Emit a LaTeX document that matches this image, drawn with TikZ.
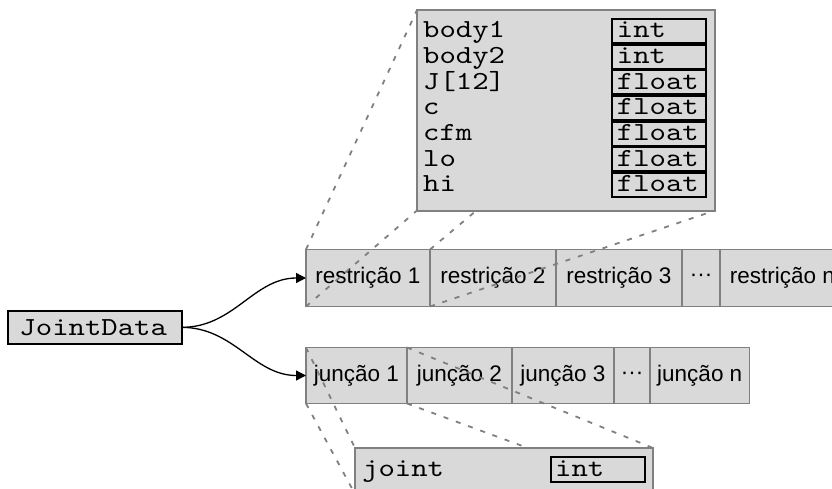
\documentclass[tikz,border=0pt]{standalone}
\usepackage{fontspec}
\setmainfont{Liberation Sans}
\newfontfamily\monofont[FakeStretch=1.2]{lmmono10-regular.otf}
\usetikzlibrary{arrows.meta}
\definecolor{cellfill}{RGB}{217,217,217}
\definecolor{edgegray}{RGB}{128,128,128}
\pgfdeclarelayer{cells}
\pgfdeclarelayer{guides}
\pgfsetlayers{cells,guides,main}
\tikzset{
  cell/.style={draw=edgegray, fill=cellfill, line width=1.6pt, rectangle,
    inner sep=0pt, outer sep=0pt, anchor=west,
    font=\fontsize{22.5}{26}\selectfont},
  rcell/.style={cell, minimum height=57pt},
  jcell/.style={cell, minimum height=56pt},
  panel/.style={draw=edgegray, fill=cellfill, line width=2pt,
    inner sep=0pt, outer sep=0pt, anchor=north west},
  typebox/.style={draw=black, line width=1.8pt, inner sep=0pt, outer sep=0pt,
    minimum width=94pt, minimum height=24pt},
  code/.style={font=\monofont\fontsize{26}{28}\selectfont,
    inner sep=0pt, anchor=base west},
  zoomline/.style={draw=edgegray, line width=1.8pt, dash pattern=on 5pt off 8pt},
  link/.style={draw=black, line width=1.3pt, -{Triangle[length=10pt,width=10pt]}},
}
\begin{document}
\begin{tikzpicture}[x=1pt, y=-1pt]
\useasboundingbox (0,0) rectangle (832,488);

% constraint array
\begin{pgfonlayer}{cells}
\node[rcell, minimum width=124pt] (r1) at (306,278) {restrição 1};
\node[rcell, minimum width=126pt] (r2) at (430,278) {restrição 2};
\node[rcell, minimum width=126pt] (r3) at (556,278) {restrição 3};
\node[rcell, minimum width=38pt]  (r4) at (682,278) {···};
\node[rcell, minimum width=125pt] (r5) at (720,278) {restrição n};

% joint array
\node[jcell, minimum width=101pt]   (j1) at (306,375.5) {junção 1};
\node[jcell, minimum width=105pt]   (j2) at (407,375.5) {junção 2};
\node[jcell, minimum width=102pt]   (j3) at (512,375.5) {junção 3};
\node[jcell, minimum width=36pt]    (j4) at (614,375.5) {···};
\node[jcell, minimum width=99.5pt]  (j5) at (650,375.5) {junção n};
\end{pgfonlayer}

% constraint record
\node[panel, minimum width=298pt, minimum height=200.5pt] (rdetail) at (417,10) {};
\foreach \lab/\typ [count=\i from 0] in
    {body1/int, body2/int, J[12]/float, c/float, cfm/float, lo/float, hi/float} {
  \pgfmathsetmacro\yb{37.7+25.67*\i}
  \node[code] (lab\i) at (423,\yb) {\lab};
  \node[typebox] (tb\i) at (659,\yb-6.7) {};
  \node[code] (ty\i) at (616.7,\yb) {\typ};
}

% joint record
\node[panel, minimum width=298pt, minimum height=46pt] (jdetail) at (355,448) {};
\node[code] (jlab) at (362,476.7) {joint};
\node[typebox, minimum height=25pt] (jtb) at (598,469.2) {};
\node[code] (jty) at (555,476.7) {int};

% zoom guides
\begin{pgfonlayer}{guides}
\draw[zoomline] (r1.north west) -- (rdetail.north west);
\draw[zoomline] (r1.south west) -- (rdetail.south west);
\draw[zoomline] (r1.north east) -- (rdetail.north east);
\draw[zoomline] (r1.south east) -- (rdetail.south east);
\draw[zoomline] (j1.north west) -- (jdetail.north west);
\draw[zoomline] (j1.south west) -- (jdetail.south west);
\draw[zoomline] (j1.north east) -- (jdetail.north east);
\draw[zoomline] (j1.south east) -- (jdetail.south east);
\end{pgfonlayer}

% root structure
\node[draw=black, fill=cellfill, line width=2pt, inner sep=0pt, outer sep=0pt,
  minimum width=173.7pt, minimum height=33.3pt, anchor=north west] (jd) at (8,310.7) {};
\node[code] (jdtext) at (19.3,335) {JointData};

\draw[link] (jd.east) to[out=0, in=180] (r1.west);
\draw[link] (jd.east) to[out=0, in=180] (j1.west);
\end{tikzpicture}
\end{document}
